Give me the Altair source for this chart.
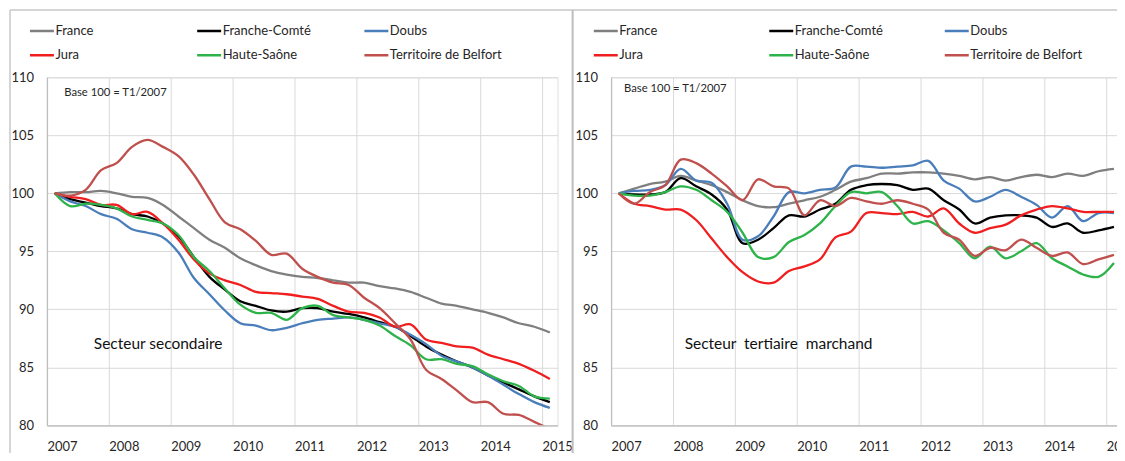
import altair as alt
import pandas as pd

# ---------------- data ----------------
years = list(range(2007, 2016))
periods = [f"T{q}/{y}" for y in years for q in (1, 2, 3, 4)][:33]
series = ["France", "Franche-Comté", "Doubs", "Jura", "Haute-Saône", "Territoire de Belfort"]
colors = ["#7f7f7f", "#000000", "#4a7ebb", "#f01e1e", "#2db34a", "#c0504d"]

# Secteur secondaire
sec_france = [100, 100.1, 100.1, 100.2, 100.0, 99.7, 99.6, 99.0, 98.0, 97.0, 96.0, 95.3, 94.4, 93.8, 93.3, 93.0, 92.8,
              92.7, 92.5, 92.3, 92.3, 92.0, 91.8, 91.5, 91.0, 90.5, 90.3, 90.0, 89.7, 89.3, 88.8, 88.5, 88.0]
sec_fc = [100, 99.5, 99.2, 98.9, 98.7, 98.2, 98.0, 97.4, 96.3, 94.5, 92.8, 91.7, 90.7, 90.3, 89.9, 89.8, 90.1,
          90.1, 89.8, 89.6, 89.3, 88.9, 88.5, 87.7, 86.8, 86.1, 85.5, 85.0, 84.3, 83.7, 83.1, 82.5, 82.0]
sec_doubs = [100, 99.3, 98.9, 98.2, 97.8, 96.9, 96.6, 96.2, 94.9, 92.7, 91.3, 89.9, 88.8, 88.6, 88.2, 88.4, 88.8,
             89.1, 89.2, 89.3, 89.1, 88.8, 88.5, 87.8, 87.0, 86.0, 85.5, 85.0, 84.3, 83.5, 82.7, 82.0, 81.5]
sec_jura = [100, 99.7, 99.5, 99.0, 99.0, 98.2, 98.4, 97.4, 96.0, 94.3, 93.1, 92.5, 92.1, 91.5, 91.4, 91.3, 91.1,
            90.9, 90.3, 89.8, 89.7, 89.3, 88.5, 88.7, 87.4, 87.1, 86.8, 86.7, 86.1, 85.7, 85.3, 84.7, 84.0]
sec_hs = [100, 98.9, 99.1, 99.0, 98.7, 98.0, 97.7, 97.4, 96.4, 94.5, 93.3, 91.8, 90.4, 89.7, 89.7, 89.1, 90.1,
          90.3, 89.5, 89.3, 89.1, 88.6, 87.7, 86.9, 85.7, 85.7, 85.3, 85.1, 84.4, 83.8, 83.4, 82.5, 82.3]
sec_belfort = [100, 99.8, 100.3, 102.0, 102.6, 104.0, 104.6, 104.0, 103.2, 101.6, 99.5, 97.5, 96.9, 95.9, 94.7, 94.8,
               93.5, 92.8, 92.3, 92.1, 91.0, 90.1, 88.8, 87.4, 84.8, 84.0, 83.0, 82.0, 82.0, 81.0, 80.9, 80.3, 79.7]

# Secteur tertiaire marchand
ter_france = [100, 100.4, 100.8, 101.0, 101.5, 101.1, 100.7, 100.1, 99.4, 98.9, 98.8, 99.1, 99.4, 99.7, 100.3, 101.0,
              101.3, 101.7, 101.7, 101.8, 101.8, 101.7, 101.5, 101.2, 101.4, 101.1, 101.4, 101.6, 101.4, 101.7, 101.5,
              101.9, 102.1]
ter_fc = [100, 99.9, 99.9, 100.1, 101.3, 100.6, 99.9, 98.6, 95.7, 96.0, 97.0, 98.1, 98.0, 98.6, 99.1, 100.3, 100.7,
          100.8, 100.7, 100.3, 100.4, 99.4, 98.6, 97.4, 97.9, 98.1, 98.1, 97.9, 97.1, 97.4, 96.6, 96.8, 97.1]
ter_doubs = [100, 100.2, 100.3, 100.7, 102.1, 101.1, 100.9, 99.1, 96.0, 96.3, 98.0, 100.1, 100.0, 100.3, 100.5, 102.3,
             102.3, 102.2, 102.3, 102.4, 102.8, 101.1, 100.4, 99.3, 99.7, 100.3, 99.7, 99.0, 97.9, 98.9, 97.6, 98.3, 98.3]
ter_jura = [100, 99.1, 98.9, 98.6, 98.6, 97.7, 96.1, 94.5, 93.2, 92.4, 92.3, 93.3, 93.7, 94.3, 96.2, 96.7, 98.3,
            98.3, 98.2, 98.4, 98.0, 98.7, 97.4, 96.6, 97.0, 97.3, 98.1, 98.6, 98.9, 98.7, 98.4, 98.4, 98.4]
ter_hs = [100, 99.8, 99.8, 100.1, 100.6, 100.3, 99.4, 98.4, 96.6, 94.5, 94.5, 95.8, 96.4, 97.4, 98.9, 100.1, 100.0,
          100.1, 98.9, 97.4, 97.6, 96.8, 95.7, 94.4, 95.4, 94.4, 95.0, 95.7, 94.4, 93.7, 93.0, 92.8, 94.0]
ter_belfort = [100, 99.1, 100.1, 100.7, 102.9, 102.6, 101.7, 100.6, 99.4, 101.2, 100.6, 100.4, 98.1, 99.4, 98.9, 99.6,
               99.3, 99.1, 99.4, 99.1, 98.6, 96.6, 96.0, 94.6, 95.3, 95.1, 96.0, 95.3, 94.6, 94.9, 93.9, 94.3, 94.7]

sec_values = [sec_france, sec_fc, sec_doubs, sec_jura, sec_hs, sec_belfort]
ter_values = [ter_france, ter_fc, ter_doubs, ter_jura, ter_hs, ter_belfort]

base_text = "Base 100 = T1/2007"
sec_title = "Secteur secondaire"
ter_title = "Secteur\u00a0 tertiaire\u00a0 marchand"

# ---------------- styling ----------------
FONT = "Lato"
TXT = "#262626"
GRID = "#d9d9d9"
AXIS = "#bfbfbf"
W, H = 511.5, 348.7


def long_df(values_by_series):
    rows = []
    for s, vals in zip(series, values_by_series):
        for p, v in zip(periods, vals):
            q, y = p[1:].split("/")
            rows.append({"periode": p, "t": int(y) + (int(q) - 1) / 4, "serie": s, "v": v})
    return pd.DataFrame(rows)


xscale = alt.Scale(domain=[2006.875, 2015.125], nice=False, zero=False)
yscale = alt.Scale(domain=[80, 110], nice=False, zero=False)

xaxis = alt.Axis(values=years, format="d", title=None, tickOffset=-7.75, labelAlign="left",
                 labelBaseline="top", labelPadding=15.5, ticks=False, tickSize=0, grid=True,
                 gridColor=GRID, gridWidth=1, domainColor=AXIS, domainWidth=1.3, labelFont=FONT,
                 labelFontSize=13, labelColor=TXT, labelFlush=False, labelOverlap=False, labelBound=False)
yaxis = alt.Axis(values=[80, 85, 90, 95, 100, 105, 110], title=None, ticks=False, tickSize=0,
                 labelPadding=13.5, grid=True, gridColor=GRID, gridWidth=1, domainColor=AXIS,
                 domainWidth=1.3, labelFont=FONT, labelFontSize=13, labelColor=TXT,
                 labelFlush=False, labelOverlap=False)


def panel(values, title, title_t, base_t, base_v, legend_x, col_pad, frame=False):
    df = long_df(values)
    legend = alt.Legend(title=None, orient="none", legendX=legend_x, legendY=-53.4, columns=3,
                        direction="horizontal",
                        symbolType="stroke", symbolSize=576, symbolStrokeWidth=2.5,
                        labelFont=FONT, labelFontSize=13, labelColor=TXT, labelOffset=0,
                        columnPadding=col_pad, rowPadding=10.4, gridAlign="all", padding=0,
                        clipHeight=14, labelLimit=400)
    lines = alt.Chart(df).mark_line(interpolate="catmull-rom", strokeWidth=2.3, clip=True).encode(
        x=alt.X("t:Q", scale=xscale, axis=xaxis),
        y=alt.Y("v:Q", scale=yscale, axis=yaxis),
        color=alt.Color("serie:N", scale=alt.Scale(domain=series, range=colors), sort=series,
                        legend=legend),
    )
    base = alt.Chart(pd.DataFrame({"t": [base_t], "v": [base_v], "txt": [base_text]})).mark_text(
        align="left", baseline="middle", font=FONT, fontSize=11.3, color=TXT
    ).encode(x=alt.X("t:Q", scale=xscale), y=alt.Y("v:Q", scale=yscale), text="txt:N")
    sect = alt.Chart(pd.DataFrame({"t": [title_t], "v": [87.0], "txt": [title]})).mark_text(
        align="left", baseline="middle", font=FONT, fontSize=15.5, color="#111111"
    ).encode(x=alt.X("t:Q", scale=xscale), y=alt.Y("v:Q", scale=yscale), text="txt:N")
    layers = [lines, base, sect]
    if frame:
        one = pd.DataFrame({"k": [0]})
        top = alt.Chart(one).mark_rule(color="#c8c8c8", strokeWidth=1.5).encode(
            x=alt.value(-37.0), x2=alt.value(1160), y=alt.value(-67.5))
        left = alt.Chart(one).mark_rule(color="#c8c8c8", strokeWidth=1.5).encode(
            x=alt.value(-37.0), y=alt.value(-67.5), y2=alt.value(420))
        divider = alt.Chart(one).mark_rule(color="#bdbdbd", strokeWidth=2).encode(
            x=alt.value(526.6), y=alt.value(-67.5), y2=alt.value(420))
        layers = [top, left, divider] + layers
    return alt.layer(*layers).properties(width=W, height=H)


left = panel(sec_values, sec_title, 2007.633, 2007.154, 108.63, -18.5, 27.5, frame=True)
right = panel(ter_values, ter_title, 2008.064, 2007.085, 109.0, -18.8, 35.8)

chart = alt.HConcatChart(hconcat=[left, right], spacing=53.1, bounds="flush").resolve_scale(
    color="independent", x="independent", y="independent"
).resolve_legend(color="independent").properties(
    padding={"left": 0, "top": 0, "right": -90.1, "bottom": -45.7}
).configure_view(
    stroke=GRID, strokeWidth=1
).configure(background="white")

chart.save("out.html", embed_options={"renderer": "svg", "actions": False})
